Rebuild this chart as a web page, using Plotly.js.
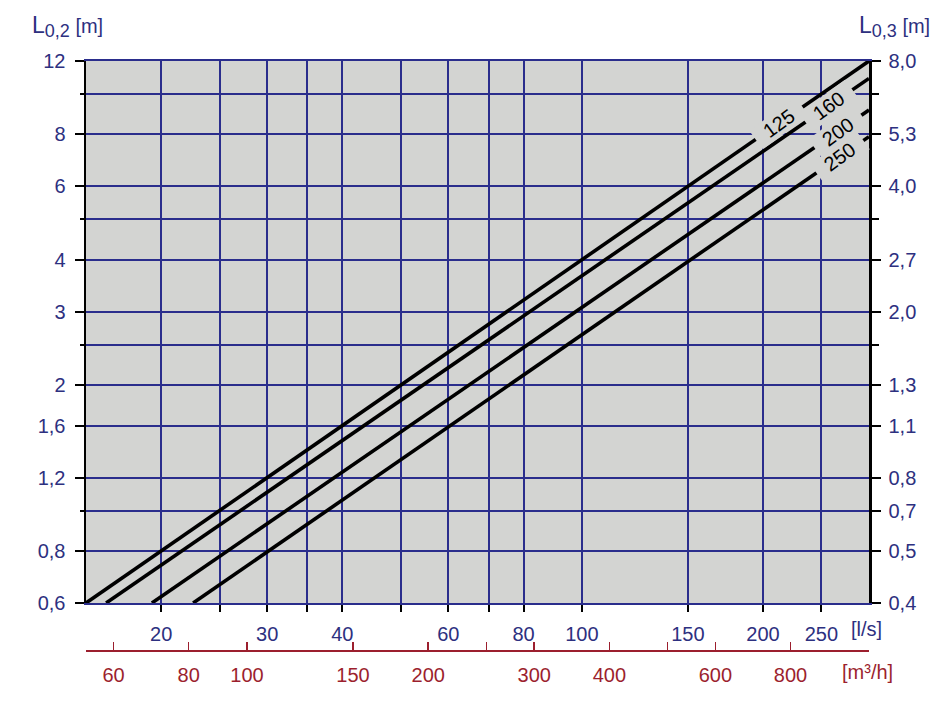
<!DOCTYPE html>
<html>
<head>
<meta charset="utf-8">
<script src="https://cdn.plot.ly/plotly-3.0.1.min.js"></script>
<style>html,body{margin:0;padding:0;background:#fff;}#chart{width:933px;height:723px;}</style>
</head>
<body>
<div id="chart"></div>
<script>
// ---- data ----
const diameters = ['125', '160', '200', '250'];
const flowStart = [15, 16.2, 19.3, 22.6];      // l/s where each line enters at the bottom
const throwStart = [0.6, 0.6, 0.6, 0.6];       // L0,2 [m]
const flowEnd = [300, 300, 300, 300];          // l/s at right edge
const throwEnd = [12, 10.9, 9.15, 7.9];        // L0,2 [m]
const labelFlow = [213, 257, 266, 268];        // l/s where the diameter labels sit

const lsTickVals = [20, 30, 40, 60, 80, 100, 150, 200, 250];
const lsTickText = ['20', '30', '40', '60', '80', '100', '150', '200', '250'];
const lsMinorVals = [25, 35, 50, 70];
const m3hTickVals = [60, 80, 100, 150, 200, 300, 400, 600, 800];
const m3hTickText = ['60', '80', '100', '150', '200', '300', '400', '600', '800'];
const m3hMinorVals = [250, 500];
const l02TickVals = [0.6, 0.8, 1.2, 1.6, 2, 3, 4, 6, 8, 12];
const l02TickText = ['0,6', '0,8', '1,2', '1,6', '2', '3', '4', '6', '8', '12'];
const l02MinorVals = [1, 2.5, 5, 10];
const l03TickVals = [0.6, 0.8, 1, 1.2, 1.6, 2, 3, 4, 6, 8, 12];
const l03TickText = ['0,4', '0,5', '0,7', '0,8', '1,1', '1,3', '2,0', '2,7', '4,0', '5,3', '8,0'];
const l03MinorVals = [2.5, 5, 10];

// ---- styles ----
const NAVY = '#2d3080';
const GRID = '#2a2d8c';
const RED = '#9c1f2e';
const BG = '#d3d4d2';
const FONT = 'Liberation Sans, Arial, sans-serif';
const FS = 20;

const xMin = 15, xMax = 300, yMin = 0.6, yMax = 12;
const L = Math.log10;

const traces = diameters.map((d, i) => ({
  type: 'scatter', mode: 'lines',
  x: [flowStart[i], flowEnd[i]],
  y: [throwStart[i], throwEnd[i]],
  line: {color: '#000', width: 3.6},
  name: d, showlegend: false, hoverinfo: 'skip'
}));
// helper traces so the overlay axes exist
traces.push({type: 'scatter', mode: 'markers', x: [100], y: [1], xaxis: 'x2', yaxis: 'y',
  marker: {opacity: 0}, showlegend: false, hoverinfo: 'skip'});
traces.push({type: 'scatter', mode: 'markers', x: [20], y: [1], xaxis: 'x', yaxis: 'y2',
  marker: {opacity: 0}, showlegend: false, hoverinfo: 'skip'});

function interpLog(i, q) {
  const t = (L(q) - L(flowStart[i])) / (L(flowEnd[i]) - L(flowStart[i]));
  return Math.pow(10, L(throwStart[i]) + t * (L(throwEnd[i]) - L(throwStart[i])));
}

const pad = '\u00a0\u00a0';
const annotations = diameters.map((d, i) => ({
  xref: 'x', yref: 'y',
  x: L(labelFlow[i]), y: L(interpLog(i, labelFlow[i])),
  text: pad + d + pad, showarrow: false, textangle: -36,
  font: {family: FONT, size: 20, color: '#000'},
  bgcolor: BG, borderpad: 0, xanchor: 'center', yanchor: 'middle'
}));
annotations.push(
  {xref: 'paper', yref: 'paper', x: -0.071, y: 1.058, xanchor: 'left', yanchor: 'middle', showarrow: false,
   text: '<span style="font-size:23px">L</span><sub><span style="font-size:18px">0,2</span></sub> [m]', font: {family: FONT, size: FS, color: NAVY}},
  {xref: 'paper', yref: 'paper', x: 1.081, y: 1.058, xanchor: 'right', yanchor: 'middle', showarrow: false,
   text: '<span style="font-size:23px">L</span><sub><span style="font-size:18px">0,3</span></sub> [m]', font: {family: FONT, size: FS, color: NAVY}},
  {xref: 'paper', yref: 'paper', x: 0.975, y: 0.038, xanchor: 'left', yanchor: 'middle', showarrow: false,
   text: '[l/s]', font: {family: FONT, size: FS, color: NAVY}},
  {xref: 'paper', yref: 'paper', x: 0.963, y: -0.036, xanchor: 'left', yanchor: 'middle', showarrow: false,
   text: '[m³/h]', font: {family: FONT, size: FS, color: RED}}
);

const layout = {
  width: 933, height: 723,
  margin: {l: 86, r: 64, t: 61, b: 72, pad: 0},
  paper_bgcolor: '#ffffff', plot_bgcolor: BG,
  showlegend: false,
  font: {family: FONT, size: FS, color: NAVY},
  xaxis: {
    type: 'log', range: [L(xMin), L(xMax)], fixedrange: true,
    tickmode: 'array', tickvals: lsTickVals, ticktext: lsTickText,
    ticks: 'outside', ticklen: 7, tickwidth: 2, tickcolor: '#000',
    ticklabelstandoff: 5,
    tickfont: {family: FONT, size: FS, color: NAVY},
    showgrid: true, gridcolor: GRID, gridwidth: 2,
    minor: {tickmode: 'array', tickvals: lsMinorVals, ticks: 'outside', ticklen: 7, tickwidth: 2, tickcolor: '#000',
            showgrid: true, gridcolor: GRID, gridwidth: 2},
    showline: true, linecolor: GRID, linewidth: 2, mirror: true,
    zeroline: false
  },
  xaxis2: {
    type: 'log', range: [L(xMin * 3.6), L(xMax * 3.6)], fixedrange: true,
    overlaying: 'x', anchor: 'free', position: 0, side: 'bottom',
    tickmode: 'array', tickvals: m3hTickVals, ticktext: m3hTickText,
    ticks: 'inside', ticklen: 8, tickwidth: 1.5, tickcolor: RED,
    ticklabelstandoff: 6,
    tickfont: {family: FONT, size: FS, color: RED},
    minor: {tickmode: 'array', tickvals: m3hMinorVals, ticks: 'inside', ticklen: 8, tickwidth: 1.5, tickcolor: RED, showgrid: false},
    showgrid: false, showline: true, linecolor: RED, linewidth: 2, zeroline: false
  },
  yaxis: {
    type: 'log', range: [L(yMin), L(yMax)], domain: [48 / 590, 1], fixedrange: true,
    tickmode: 'array', tickvals: l02TickVals, ticktext: l02TickText,
    ticks: 'outside', ticklen: 9, tickwidth: 2, tickcolor: '#000',
    ticklabelstandoff: 5,
    tickfont: {family: FONT, size: FS, color: NAVY},
    showgrid: true, gridcolor: GRID, gridwidth: 2,
    minor: {tickmode: 'array', tickvals: l02MinorVals, ticks: 'outside', ticklen: 4, tickwidth: 2, tickcolor: '#000',
            showgrid: true, gridcolor: GRID, gridwidth: 2},
    showline: true, linecolor: '#000', linewidth: 2.5, zeroline: false
  },
  yaxis2: {
    type: 'log', range: [L(yMin), L(yMax)], overlaying: 'y', side: 'right', anchor: 'x', fixedrange: true,
    tickmode: 'array', tickvals: l03TickVals, ticktext: l03TickText,
    ticks: 'outside', ticklen: 9, tickwidth: 2, tickcolor: '#000',
    ticklabelstandoff: 4,
    tickfont: {family: FONT, size: FS, color: NAVY},
    minor: {tickmode: 'array', tickvals: l03MinorVals, ticks: 'outside', ticklen: 7, tickwidth: 2, tickcolor: '#000', showgrid: false},
    showgrid: false, showline: true, linecolor: '#000', linewidth: 2.5, zeroline: false
  },
  annotations: annotations
};

Plotly.newPlot('chart', traces, layout, {displayModeBar: false, staticPlot: true});
</script>
</body>
</html>
